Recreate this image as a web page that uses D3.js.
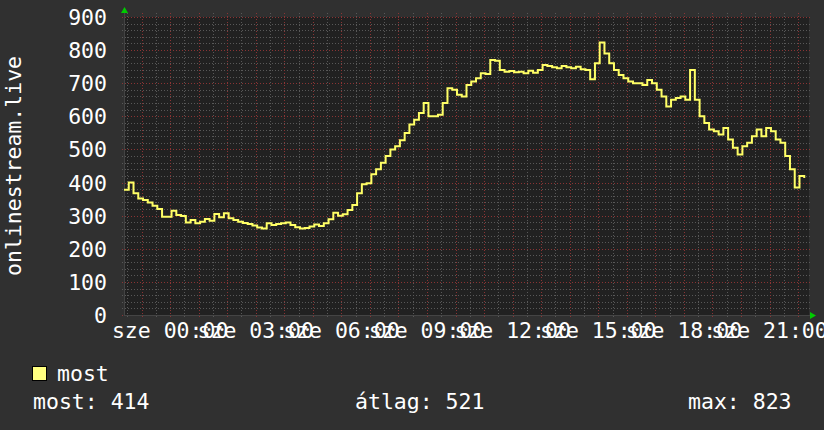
<!DOCTYPE html>
<html lang="hu">
<head>
    <meta charset="utf-8">
    <title>onlinestream.live</title>
    <style>
        body {
          margin:0;
          background:#303030;
        }
        svg text {
          font-family: 'DejaVu Sans Mono', monospace;
          font-size:21.5px;
          fill:white;
        }
    </style>
</head>
<body>
<div id="canvas"></div>
<script src="https://cdnjs.cloudflare.com/ajax/libs/d3/7.8.5/d3.min.js"></script>
<script>
    // listeners, one sample every 10 minutes
    var values = [378, 400, 368, 352, 347, 340, 330, 320, 297, 297,
                  315, 302, 299, 279, 287, 277, 282, 290, 285, 305,
                  295, 307, 292, 287, 282, 278, 275, 270, 264, 261,
                  277, 272, 275, 277, 279, 272, 265, 261, 263, 267,
                  273, 269, 277, 289, 309, 300, 304, 317, 332, 368,
                  395, 398, 425, 440, 460, 480, 500, 510, 528, 550,
                  575, 590, 610, 640, 600, 600, 605, 640, 685, 680,
                  665, 660, 695, 705, 715, 730, 728, 770, 768, 740,
                  735, 737, 733, 735, 730, 738, 732, 740, 755, 752,
                  748, 745, 752, 748, 745, 750, 742, 740, 712, 760,
                  823, 790, 760, 740, 725, 715, 705, 700, 700, 695,
                  710, 700, 680, 660, 630, 650, 655, 660, 650, 740,
                  650, 600, 580, 560, 555, 545, 565, 530, 505, 485,
                  510, 520, 540, 560, 540, 565, 555, 530, 520, 480,
                  440, 385, 420, 414];
    var yTicks = [0, 100, 200, 300, 400, 500, 600, 700, 800, 900];
    var dayName = "sze";
    var seriesName = "most";
    var yTitle = "onlinestream.live";
    var stats = [["most", 414], ["átlag", 521], ["max", 823]];

    var W = 824, H = 430;
    var pLeft = 124, pRight = 809, pTop = 17, pBottom = 315;

    var start = new Date(2024, 0, 2, 22, 23),
        end = new Date(start.getTime() + 24 * 3600 * 1000),
        step = 10 * 60 * 1000;

    var data = values.map(function(v, i) {
      return {t: new Date(start.getTime() + i * step), v: v};
    });

    var x = d3.scaleTime().domain([start, end]).range([pLeft, pRight]),
        y = d3.scaleLinear().domain([0, 900]).range([pBottom, pTop]);

    var svg = d3.select("#canvas").append("svg")
        .attr("width", W)
        .attr("height", H);

    svg.append("rect")
        .attr("width", W).attr("height", H)
        .attr("fill", "#303030");

    svg.append("rect")
        .attr("x", pLeft).attr("y", pTop)
        .attr("width", pRight - pLeft).attr("height", pBottom - pTop)
        .attr("fill", "#212121");

    //grid: minor gray, major red, both dotted and sticking out a bit
    var minorY = d3.range(0, 901, 20).filter(function(d) { return d % 100 != 0; }),
        minorX = d3.timeMinute.every(30).range(start, end).filter(function(d) { return d.getMinutes() != 0; }),
        majorX = d3.timeHour.every(1).range(start, end);

    var grid = svg.append("g").attr("stroke-dasharray", "1,2").attr("shape-rendering", "crispEdges");

    grid.selectAll("line.minY").data(minorY).enter().append("line")
        .attr("x1", pLeft - 2).attr("x2", pRight + 3)
        .attr("y1", function(d) { return Math.round(y(d)) + 0.5; })
        .attr("y2", function(d) { return Math.round(y(d)) + 0.5; })
        .attr("stroke", "#585858");

    grid.selectAll("line.minX").data(minorX).enter().append("line")
        .attr("y1", pTop - 4).attr("y2", pBottom + 3)
        .attr("x1", function(d) { return Math.round(x(d)) + 0.5; })
        .attr("x2", function(d) { return Math.round(x(d)) + 0.5; })
        .attr("stroke", "#585858");

    grid.selectAll("line.majY").data(yTicks).enter().append("line")
        .attr("x1", pLeft - 2).attr("x2", pRight + 3)
        .attr("y1", function(d) { return Math.round(y(d)) + 0.5; })
        .attr("y2", function(d) { return Math.round(y(d)) + 0.5; })
        .attr("stroke", "#8a3434");

    grid.selectAll("line.majX").data(majorX).enter().append("line")
        .attr("y1", pTop - 4).attr("y2", pBottom + 3)
        .attr("x1", function(d) { return Math.round(x(d)) + 0.5; })
        .attr("x2", function(d) { return Math.round(x(d)) + 0.5; })
        .attr("stroke", "#8a3434");

    //axis lines
    svg.append("line")
        .attr("x1", pLeft).attr("x2", pRight + 2)
        .attr("y1", pBottom + 0.5).attr("y2", pBottom + 0.5)
        .attr("stroke", "#444");
    svg.append("line")
        .attr("x1", pLeft + 0.5).attr("x2", pLeft + 0.5)
        .attr("y1", pTop - 4).attr("y2", pBottom)
        .attr("stroke", "#444");

    //arrows
    svg.append("path")
        .attr("d", "M" + (pLeft - 3) + "," + (pTop - 4) + "L" + (pLeft + 4) + "," + (pTop - 4) + "L" + (pLeft + 0.5) + "," + (pTop - 10) + "Z")
        .attr("fill", "#00cc00");
    svg.append("path")
        .attr("d", "M" + (pRight + 1) + "," + (pBottom - 3) + "L" + (pRight + 1) + "," + (pBottom + 4) + "L" + (pRight + 7) + "," + (pBottom + 0.5) + "Z")
        .attr("fill", "#00cc00");

    //y labels
    svg.selectAll("text.ytick").data(yTicks).enter().append("text")
        .attr("x", 107)
        .attr("y", function(d) { return y(d) + 8; })
        .style("text-anchor", "end")
        .text(function(d) { return d; });

    //x labels, every 3 hours
    var fmt = d3.timeFormat("%H:%M");
    svg.selectAll("text.xtick").data(d3.timeHour.every(3).range(start, end)).enter().append("text")
        .attr("x", function(d) { return x(d); })
        .attr("y", 338)
        .style("text-anchor", "middle")
        .text(function(d) { return dayName + " " + fmt(d); });

    svg.append("text")
        .attr("transform", "translate(21," + ((pTop + pBottom) / 2) + ") rotate(-90)")
        .style("text-anchor", "middle")
        .text(yTitle);

    //the line
    var line = d3.line()
        .curve(d3.curveStepAfter)
        .x(function(d) { return x(d.t); })
        .y(function(d) { return y(d.v); });

    svg.append("path")
        .datum(data)
        .attr("d", line)
        .attr("fill", "none")
        .attr("stroke", "#ffff66")
        .attr("stroke-width", 2);

    //legend
    svg.append("rect")
        .attr("x", 32.5).attr("y", 366.5)
        .attr("width", 14).attr("height", 14)
        .attr("fill", "#ffff80")
        .attr("stroke", "black");
    svg.append("text").attr("x", 57).attr("y", 381).text(seriesName);

    var statX = [33, 355, 688];
    svg.selectAll("text.stat").data(stats).enter().append("text")
        .attr("x", function(d, i) { return statX[i]; })
        .attr("y", 409)
        .text(function(d) { return d[0] + ": " + d[1]; });
</script>
</body>
</html>
